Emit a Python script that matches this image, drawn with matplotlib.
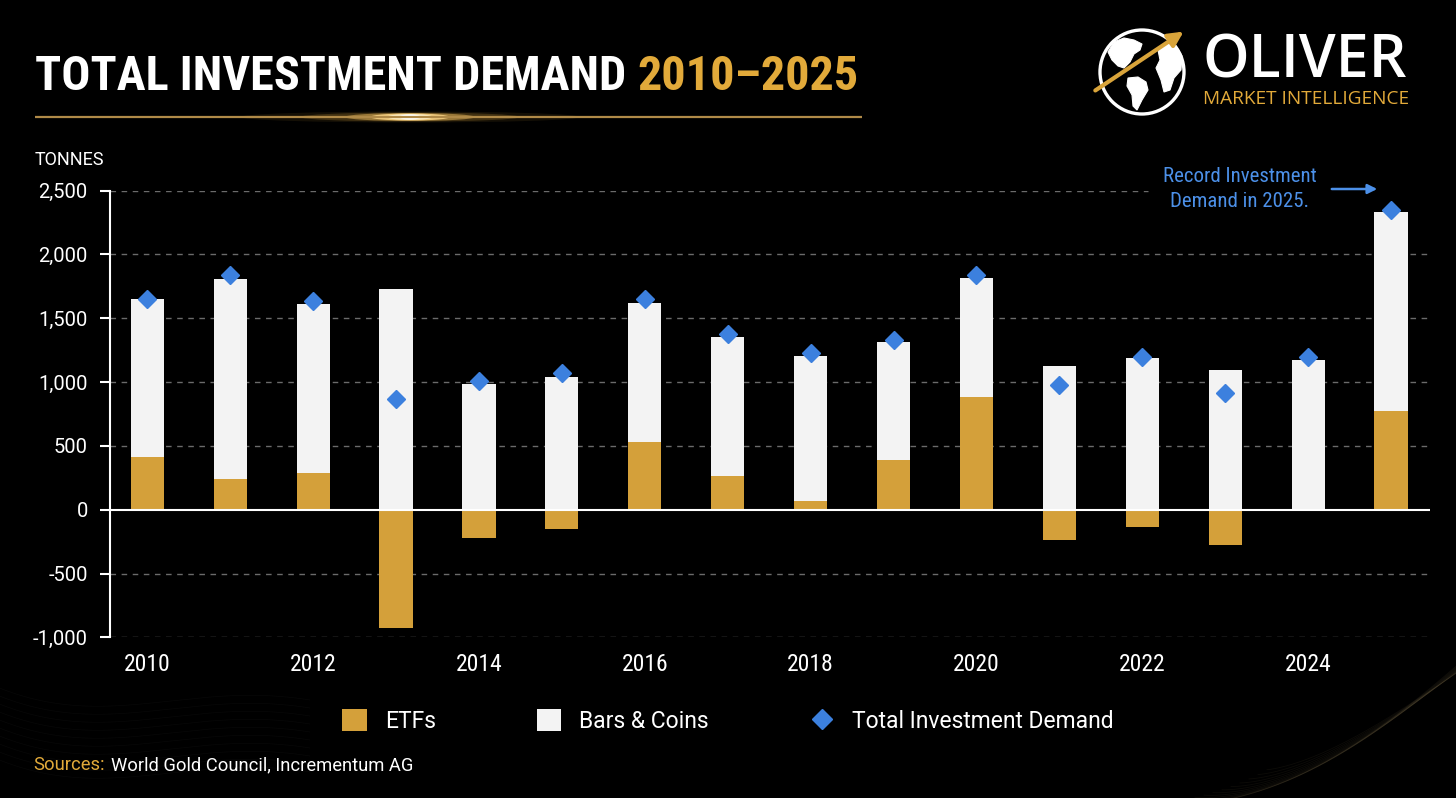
import matplotlib
matplotlib.use("Agg")
import matplotlib.pyplot as plt
from matplotlib import font_manager as fm
from matplotlib.font_manager import FontProperties
from matplotlib.patches import Patch, Circle, Polygon, FancyArrowPatch, Ellipse
from matplotlib.lines import Line2D
import numpy as np

# ---------------- data ----------------
years = list(range(2010, 2026))
etfs = [412, 241, 286, -926, -220, -150, 530, 262, 71, 391, 884, -236, -136, -273, 2, 774]
bars_coins = [1236, 1570, 1328, 1727, 984, 1042, 1089, 1095, 1136, 924, 934, 1128, 1186, 1092, 1171, 1561]
total_demand = [1653, 1837, 1632, 866, 1010, 1068, 1648, 1378, 1228, 1330, 1837, 979, 1194, 918, 1194, 2348]
y_ticks = [-1000, -500, 0, 500, 1000, 1500, 2000, 2500]
x_ticks = [2010, 2012, 2014, 2016, 2018, 2020, 2022, 2024]
legend_labels = ["ETFs", "Bars & Coins", "Total Investment Demand"]

# ---------------- style ----------------
GOLD = "#D4A03A"
TITLE_GOLD = "#E2AA3A"
WHITE_BAR = "#F3F3F3"
BLUE = "#3C80DE"
ANNO_BLUE = "#4C90E8"

names = {f.name for f in fm.fontManager.ttflist}
REG = "Roboto" if "Roboto" in names else "DejaVu Sans"
LOGO = "Open Sans" if "Open Sans" in names else REG


def find_condensed(bold):
    prefs = ["robotocondensed", "roboto_condensed", "roboto-condensed",
             "liberationsansnarrow", "liberationsans-narrow", "notosans-condensed",
             "notosanscondensed", "opensans-condensed", "opensans_condensed",
             "opensanscondensed", "dejavusanscondensed", "condensed", "narrow"]
    files = [f.fname for f in fm.fontManager.ttflist]
    for p in prefs:
        for fn in files:
            base = fn.lower().replace(" ", "").split("/")[-1]
            if p not in base:
                continue
            if any(k in base for k in ("italic", "oblique", "light", "thin", "black",
                                        "medium", "extra", "semi")):
                continue
            isbold = "bold" in base
            if isbold == bold:
                return fn
    return None


cb = find_condensed(True)
cr = find_condensed(False)


def cond_fp(bold, size):
    fn = cb if bold else cr
    if fn:
        return FontProperties(fname=fn, size=size)
    return FontProperties(family=REG, weight="bold" if bold else "normal", size=size)


W, H = 1456, 798
fig = plt.figure(figsize=(W / 100, H / 100), dpi=100, facecolor="black")

# overlay axes in pixel coordinates (y down) for decoration
bg = fig.add_axes([0, 0, 1, 1], zorder=0)
bg.set_xlim(0, W)
bg.set_ylim(H, 0)
bg.axis("off")
bg.set_facecolor("black")

# faint decorative curves
t = np.linspace(0, 1, 200)
for i in range(14):
    xs = 1150 + 320 * t + i * 9
    ys = 805 - 150 * t ** 1.5 - i * 4 + 18 * np.sin(t * 3.2 + i * 0.15)
    bg.plot(xs, ys, color="#8a7a55", lw=0.6, alpha=0.09)
for i in range(10):
    xs = -20 + 330 * t
    ys = 660 + i * 8 + 50 * np.sin(t * 3.0 + 0.4) * (1 - t) + 40 * t
    bg.plot(xs, ys, color="#707070", lw=0.5, alpha=0.07)

renderer = fig.canvas.get_renderer()


def fit_text(ax, x, y, s, target_w, **kw):
    tx = ax.text(x, y, s, **kw)
    bb = tx.get_window_extent(renderer)
    tx.set_fontsize(tx.get_fontsize() * target_w / bb.width)
    return tx


# title (two colours)
t1 = bg.text(35, 90, "TOTAL INVESTMENT DEMAND ", color="white",
             fontproperties=cond_fp(True, 34), va="baseline", ha="left")
t2 = bg.text(0, 90, "2010\u20132025", color=TITLE_GOLD,
             fontproperties=cond_fp(True, 34), va="baseline", ha="left")
w1 = t1.get_window_extent(renderer).width
w2 = t2.get_window_extent(renderer).width
fs = 34 * (862 - 35) / (w1 + w2)
fs = min(fs, 48)
t1.set_fontsize(fs)
t2.set_fontsize(fs)
w1 = t1.get_window_extent(renderer).width
t2.set_position((35 + w1, 90))

# gold rule with glow
bg.plot([35, 862], [117, 117], color="#B08A48", lw=1.6, solid_capstyle="butt")
for wd, ht, a, c in [(340, 11, 0.10, "#C99A3A"), (220, 9, 0.22, "#E0A940"),
                     (130, 8, 0.5, "#F2C060"), (80, 7, 0.85, "#FFD98A"),
                     (46, 6, 1.0, "#FFEFC4"), (22, 5, 1.0, "#FFFFFF")]:
    bg.add_patch(Ellipse((410, 117), wd, ht, fc=c, ec="none", alpha=a))

bg.text(35, 165, "TONNES", color="white", family=REG, fontsize=13,
        va="baseline", ha="left")

# logo
cx, cy, r = 1142, 72, 42
bg.add_patch(Circle((cx, cy), r, fill=False, ec="white", lw=2.4))
na = [(1108, 52), (1114, 42), (1124, 38), (1134, 40), (1142, 44), (1140, 50),
      (1134, 54), (1130, 62), (1124, 68), (1118, 66), (1112, 60)]
sa = [(1128, 78), (1138, 77), (1146, 82), (1148, 90), (1142, 100), (1137, 110),
      (1133, 106), (1132, 95), (1127, 86)]
af = [(1158, 50), (1166, 44), (1176, 46), (1182, 56), (1181, 70), (1174, 78),
      (1170, 90), (1164, 92), (1161, 80), (1156, 68), (1160, 60)]
for poly in (na, sa, af):
    bg.add_patch(Polygon(poly, closed=True, fc="white", ec="white", lw=0.8))
bg.add_patch(FancyArrowPatch((1093, 92), (1186, 30), arrowstyle="-|>",
                             mutation_scale=22, color="#D9A43A", lw=3.0))
fit_text(bg, 1202, 78, "OLIVER", 204, color="white", fontsize=40,
         fontweight="semibold", family=LOGO, va="baseline", ha="left")
fit_text(bg, 1203, 104, "MARKET INTELLIGENCE", 205, color=TITLE_GOLD,
         fontsize=13, family=LOGO, va="baseline", ha="left")

# sources
s1 = bg.text(33, 770, "Sources:", color=TITLE_GOLD, fontsize=13.2, family=REG,
             va="baseline", ha="left")
w = s1.get_window_extent(renderer).width
bg.text(33 + w + 6, 770, "World Gold Council, Incrementum AG", color="white",
        fontsize=13.2, family=REG, va="baseline", ha="left")

# ---------------- main axes ----------------
left, right, top, bottom = 110, 1430, 190.7, 637.3
ax = fig.add_axes([left / W, 1 - bottom / H, (right - left) / W, (bottom - top) / H],
                  zorder=2)
ax.set_facecolor("none")
ax.set_xlim(2009.55, 2025.47)
ax.set_ylim(-1000, 2500)

for yv in y_ticks:
    if yv == 0:
        continue
    xmax = 0.786 if yv == 2500 else 1.0
    ax.axhline(yv, xmin=0, xmax=xmax, color="#6b6b6b", lw=1.0,
               ls=(0, (4, 4)), zorder=1)

ax.bar(years, etfs, width=0.4, color=GOLD, zorder=3)
bottoms = [max(e, 0) for e in etfs]
ax.bar(years, bars_coins, bottom=bottoms, width=0.4, color=WHITE_BAR, zorder=3)
ax.axhline(0, color="white", lw=1.5, zorder=4)
ax.plot(years, total_demand, ls="none", marker="D", ms=9.5, color=BLUE,
        markeredgecolor=BLUE, zorder=5)

for sp in ("top", "right", "bottom"):
    ax.spines[sp].set_visible(False)
ax.spines["left"].set_color("white")
ax.spines["left"].set_linewidth(1.5)

ax.set_yticks(y_ticks)
ax.set_yticklabels([f"{v:,}" for v in y_ticks], family=REG, fontsize=14.5,
                   color="white")
ax.tick_params(axis="y", direction="out", length=7, width=1.5, color="white",
               pad=9)
ax.set_xticks(x_ticks)
ax.set_xticklabels([str(v) for v in x_ticks], color="white")
for lab in ax.get_xticklabels():
    lab.set_fontproperties(cond_fp(False, 17))
ax.tick_params(axis="x", length=0, pad=11)

# annotation
bg.text(1240, 189, "Record Investment\nDemand in 2025.", ha="center", va="center",
        color=ANNO_BLUE, fontproperties=cond_fp(False, 15), linespacing=1.4)
bg.add_patch(FancyArrowPatch((1329, 189), (1380, 189), arrowstyle="-|>",
                             mutation_scale=14, color=ANNO_BLUE, lw=1.8))

# legend
handles = [Patch(facecolor=GOLD, edgecolor="none"),
           Patch(facecolor=WHITE_BAR, edgecolor="none"),
           Line2D([], [], ls="none", marker="D", ms=10, color=BLUE)]
leg = fig.legend(handles, legend_labels, loc="center", ncol=3,
                 bbox_to_anchor=(728 / W, 1 - 721 / H), frameon=False,
                 prop={"family": REG, "size": 16.5}, labelcolor="white",
                 handlelength=1.05, handleheight=1.05, handletextpad=0.8,
                 columnspacing=4.4)

fig.savefig("out.png", dpi=100, facecolor="black")
